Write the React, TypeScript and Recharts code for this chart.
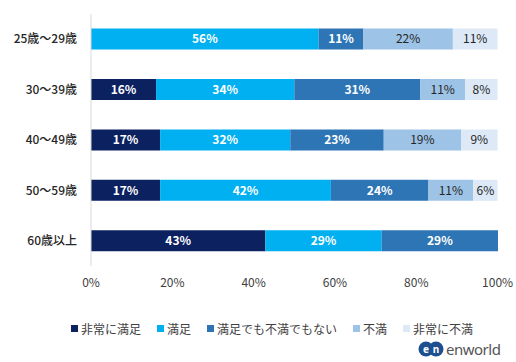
import { BarChart, Bar, XAxis, YAxis, LabelList } from 'recharts'

document.body.style.margin = '0'

const ages = ['25歳～29歳', '30～39歳', '40～49歳', '50～59歳', '60歳以上']
const seriesNames = ['非常に満足', '満足', '満足でも不満でもない', '不満', '非常に不満']
const verySatisfied = [0, 16, 17, 17, 42.9]
const satisfied = [56, 34, 32, 42, 28.6]
const neutral = [11, 31, 23, 24, 28.6]
const dissatisfied = [22, 11, 19, 11, 0]
const veryDissatisfied = [11, 8, 9, 6, 0]
const xTicks = [0, 20, 40, 60, 80, 100]

const colors = ['#0b2160', '#00b0f0', '#2e75b6', '#9dc3e6', '#dde9f6']
const labelColors = ['#ffffff', '#ffffff', '#ffffff', '#262626', '#262626']
const keys = ['s1', 's2', 's3', 's4', 's5']

const data = ages.map((age, i) => ({
  age,
  s1: verySatisfied[i],
  s2: satisfied[i],
  s3: neutral[i],
  s4: dissatisfied[i],
  s5: veryDissatisfied[i],
}))

const font = '"Noto Sans CJK JP", "Noto Sans", sans-serif'

function LegendBox() {
  return (
    <div style={{ display: 'flex', justifyContent: 'center', gap: 16, fontSize: 12, color: '#404040', fontFamily: font }}>
      {seriesNames.map((name, i) => (
        <span key={name} style={{ display: 'flex', alignItems: 'center' }}>
          <span style={{ width: 7, height: 7, background: colors[i], marginRight: 3, display: 'inline-block' }} />
          {name}
        </span>
      ))}
    </div>
  )
}

export default function App() {
  return (
    <div style={{ position: 'relative', width: 516, height: 362, background: '#fff', fontFamily: font }}>
      <BarChart
        width={516}
        height={362}
        data={data}
        layout="vertical"
        margin={{ top: 14, right: 18, bottom: 0, left: 0 }}
        barCategoryGap="29%"
      >
        <XAxis
          type="number"
          domain={[0, 100]}
          ticks={xTicks}
          tickFormatter={(v) => `${v}%`}
          axisLine={false}
          tickLine={false}
          tickMargin={6}
          height={96}
          tick={{ fontSize: 12, fill: '#404040', fontFamily: font }}
        />
        <YAxis
          yAxisId="cat"
          type="category"
          dataKey="age"
          width={91}
          axisLine={{ stroke: '#d9d9d9' }}
          tickLine={false}
          tickMargin={8}
          tick={{ fontSize: 12, fill: '#262626', fontFamily: font, fontWeight: 500 }}
        />
        {keys.map((k, i) => (
          <Bar key={k} yAxisId="cat" dataKey={k} stackId="a" fill={colors[i]} name={seriesNames[i]} isAnimationActive={false}>
            <LabelList
              dataKey={k}
              position="center"
              formatter={(v: number) => (v > 0 ? `${Math.round(v)}%` : '')}
              style={{ fontSize: 12, fill: labelColors[i], fontWeight: i < 3 ? 700 : 400, fontFamily: font }}
            />
          </Bar>
        ))}
      </BarChart>
      <div style={{ position: 'absolute', left: 14, width: 516, top: 320 }}>
        <LegendBox />
      </div>
      <div style={{ position: 'absolute', left: 418, top: 339, display: 'flex', alignItems: 'center' }}>
        <svg width={26} height={16}>
          <circle cx={8} cy={8} r={7.5} fill="#1d4f91" />
          <circle cx={18} cy={8} r={7.5} fill="#1d4f91" />
          <text x={8} y={11.5} fontSize={10} fill="#fff" textAnchor="middle" fontFamily="Noto Sans" fontWeight={700}>e</text>
          <text x={18} y={11.5} fontSize={10} fill="#fff" textAnchor="middle" fontFamily="Noto Sans" fontWeight={700}>n</text>
        </svg>
        <span style={{ fontSize: 15, color: '#555', marginLeft: 2, fontFamily: '"Noto Sans", sans-serif', letterSpacing: -0.5 }}>enworld</span>
      </div>
    </div>
  )
}
